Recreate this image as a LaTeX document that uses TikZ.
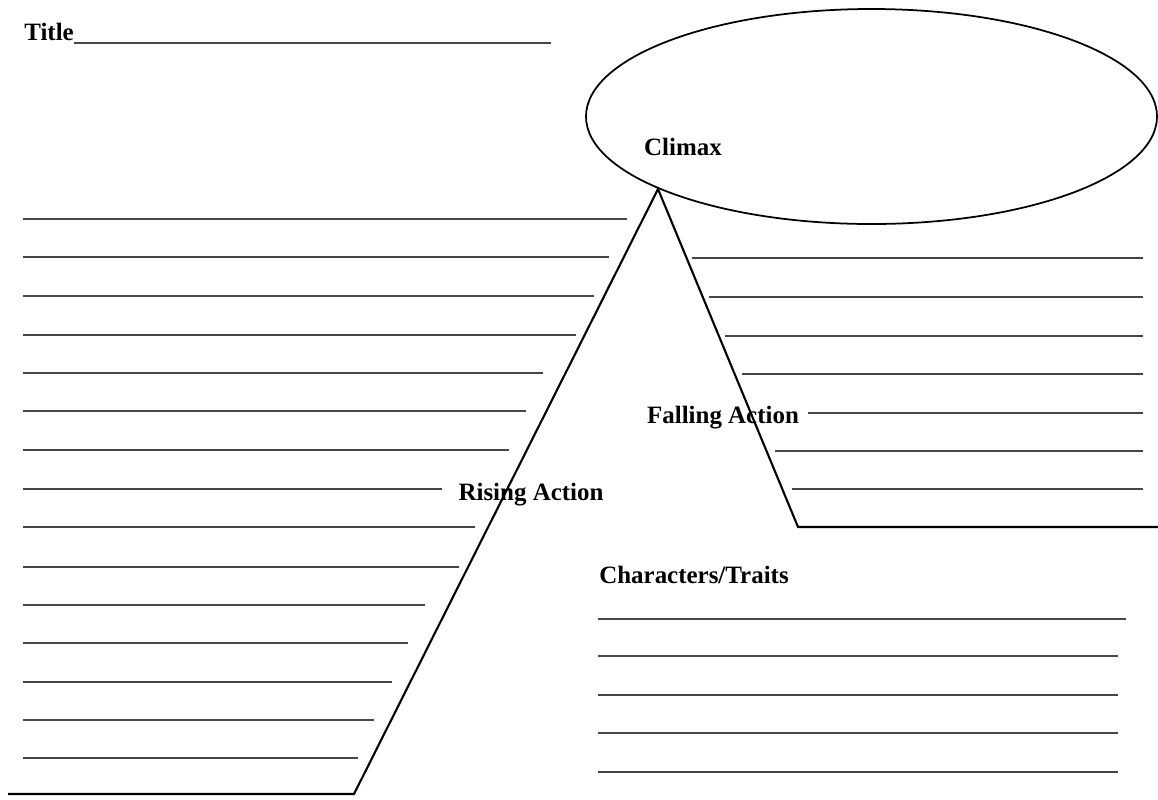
\documentclass[tikz,border=0pt]{standalone}
\usepackage{fontspec}
\setmainfont{Liberation Serif}
\usepackage{tikz}
\usepackage{xcolor}
\definecolor{ruleink}{RGB}{70,70,70}
\tikzstyle{writeline} = [line width=1.1pt, color=ruleink]
\tikzstyle{arcline} = [line width=1.2pt, color=black, line join=miter]
\tikzstyle{headtext} = [font=\fontsize{14.2}{17}\selectfont\bfseries, inner sep=0pt, text=black]

\begin{document}
\begin{tikzpicture}[x=0.02cm, y=-0.02cm]
\useasboundingbox (0,0) rectangle (1158,799);
% Title line
\node (title) [headtext, anchor=base west] at (24,40) {Title};
\draw[writeline] (title.base east) ++(0,3) -- (551,43);

% Climax oval
\draw[line width=1pt] (871.5,116.5) ellipse [x radius=285.5, y radius=107.5];
\node (climax) [headtext] at (683,147) {Climax};

% Plot mountain
\coordinate (start) at (8,794);
\coordinate (risebase) at (354,794);
\coordinate (peak) at (658,189);
\coordinate (fallbase) at (798,527);
\coordinate (finish) at (1158,527);
\draw[arcline] (start) -- (risebase) -- (peak) -- (fallbase) -- (finish);

% Rising action lines
\foreach \y/\xe in {219/627, 257/609, 296/594, 335/576, 373/543, 411/526, 450/509, 489/442,
                    527/475, 567/459, 605/425, 643/408, 682/392, 720/374, 758/358}
  \draw[writeline] (23,\y) -- (\xe,\y);
\node (rising) [headtext] at (531,495) {Rising Action};

% Falling action lines
\foreach \y/\xs in {258/692, 297/709, 336/725, 374/742, 413/808, 451/775, 489/792}
  \draw[writeline] (\xs,\y) -- (1143,\y);
\node (falling) [headtext] at (723,418) {Falling Action};

% Characters
\node (chars) [headtext] at (694,575) {Characters/Traits};
\foreach \y/\xe in {619/1126, 656/1118, 695/1118, 733/1118, 772/1118}
  \draw[writeline] (598,\y) -- (\xe,\y);
\end{tikzpicture}
\end{document}
